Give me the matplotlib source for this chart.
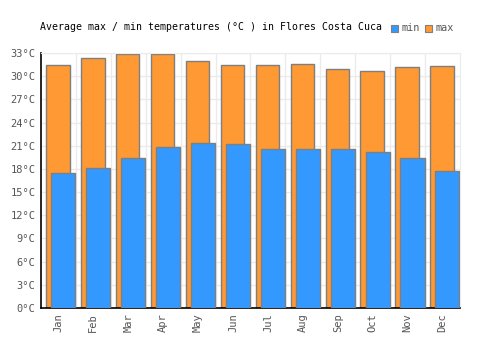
import numpy as np
import matplotlib.pyplot as plt
from matplotlib.patches import Rectangle

months = ["Jan", "Feb", "Mar", "Apr", "May", "Jun",
          "Jul", "Aug", "Sep", "Oct", "Nov", "Dec"]
t_max = [31.4, 32.3, 32.9, 32.9, 32.0, 31.4, 31.4, 31.6, 30.9, 30.7, 31.2, 31.3]
t_min = [17.5, 18.1, 19.4, 20.8, 21.3, 21.2, 20.6, 20.6, 20.6, 20.2, 19.4, 17.7]
y_ticks = list(range(0, 34, 3))

orange = "#ff9933"
blue = "#3399ff"
edge = "#7f7f7f"
font = "DejaVu Sans Mono"

fig = plt.figure(figsize=(5, 3.5), dpi=100)
ax = fig.add_axes([0.082, 0.12, 0.838, 0.7286])

x = np.arange(len(months))
ax.bar(x - 0.35, t_max, width=0.67, align="edge", color=orange,
       edgecolor=edge, linewidth=1, zorder=2)
ax.bar(x - 0.205, t_min, width=0.69, align="edge", color=blue,
       edgecolor=edge, linewidth=1, zorder=3)

ax.set_xlim(-0.5, len(months) - 0.5)
ax.set_ylim(0, 33)
ax.set_yticks(y_ticks)
ax.set_yticklabels([f"{v}°C" for v in y_ticks], family=font, fontsize=7.5,
                   color="#555555")
ax.set_xticks(x)
ax.set_xticklabels(months, rotation=90, family=font, fontsize=7.5,
                   color="#555555")
ax.set_xticks(x[:-1] + 0.5, minor=True)
ax.tick_params(axis="both", which="both", length=0, pad=4)
ax.grid(axis="y", color="#ebebeb", linewidth=1, zorder=0)
ax.grid(axis="x", which="minor", color="#ebebeb", linewidth=1, zorder=0)
ax.set_axisbelow(True)

for side in ["top", "right"]:
    ax.spines[side].set_color("#ebebeb")
for side in ["left", "bottom"]:
    ax.spines[side].set_color("black")
    ax.spines[side].set_linewidth(1.2)

fig.text(0.08, 0.923, "Average max / min temperatures (°C ) in Flores Costa Cuca",
         family=font, fontsize=7.1, va="center", ha="left", color="black")

# legend
for px, label, col in [(0.782, "min", blue), (0.85, "max", orange)]:
    fig.patches.append(Rectangle((px, 0.909), 0.014, 0.02, transform=fig.transFigure,
                                 facecolor=col, edgecolor=edge, linewidth=0.8))
    fig.text(px + 0.02, 0.921, label, family=font, fontsize=7.3,
             va="center", ha="left", color="#555555")

fig.savefig("out.png", dpi=100)
